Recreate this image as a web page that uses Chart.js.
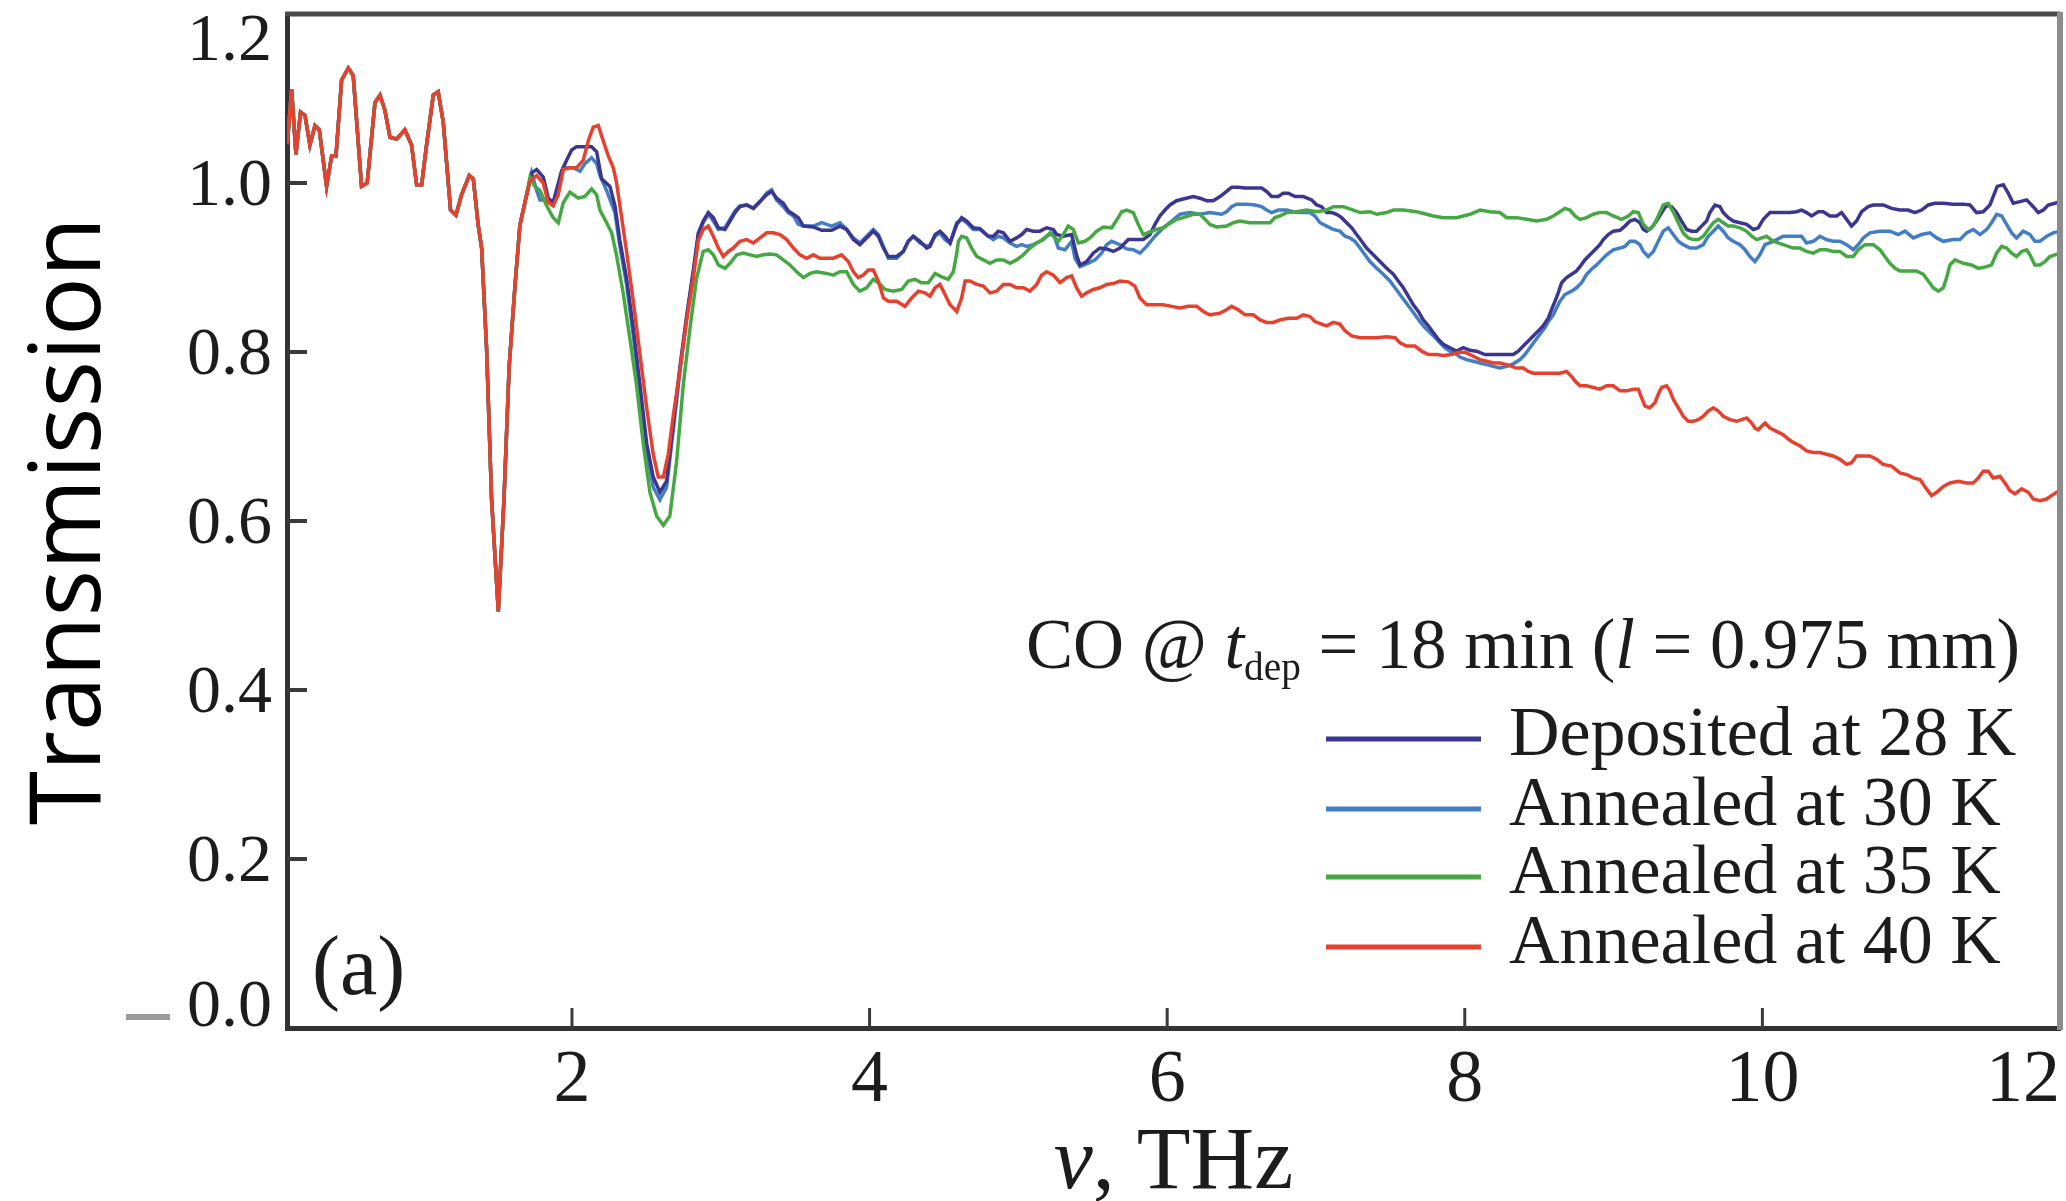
<!DOCTYPE html>
<html>
<head>
  <title>CO transmission spectra</title>
  <style>
    body { margin: 0; background: #ffffff; }
    canvas { display: block; }
  </style>
</head>
<body>
  <canvas id="chart" width="2066" height="1201"></canvas>

  <script src="https://cdn.jsdelivr.net/npm/chart.js"></script>
  <script>
    // axis ranges and ticks
    const xMin = 0.085, xMax = 12;
    const yMin = 0, yMax = 1.2;
    const xTicks = [2, 4, 6, 8, 10, 12];
    const yTicks = [0, 0.2, 0.4, 0.6, 0.8, 1.0, 1.2];

    const seriesLabels = ['Deposited at 28 K', 'Annealed at 30 K', 'Annealed at 35 K', 'Annealed at 40 K'];
    const seriesColors = ['#3b3690', '#437dc3', '#46a842', '#e6412f'];

    // below ~1.7 THz all four spectra lie on top of each other
    const shared = [[0.087,1.046],[0.116,1.111],[0.145,1.034],[0.176,1.084],[0.206,1.080],[0.239,1.045],[0.273,1.068],[0.302,1.063],[0.351,0.996],[0.385,1.032],[0.414,1.032],[0.452,1.122],[0.497,1.136],[0.530,1.127],[0.586,0.996],[0.624,1.000],[0.676,1.095],[0.710,1.104],[0.743,1.086],[0.777,1.054],[0.822,1.052],[0.877,1.063],[0.922,1.045],[0.956,0.998],[0.990,0.998],[1.023,1.045],[1.068,1.104],[1.101,1.108],[1.135,1.072],[1.184,0.968],[1.220,0.962],[1.258,0.986],[1.310,1.009],[1.337,1.005],[1.370,0.950],[1.393,0.923],[1.426,0.805],[1.460,0.625],[1.505,0.493],[1.543,0.625],[1.578,0.783],[1.617,0.878],[1.650,0.950],[1.684,0.977]];

    const deposited28 = [[1.729,1.012],[1.763,1.016],[1.807,1.007],[1.841,0.982],[1.874,0.977],[1.930,1.014],[1.964,1.027],[1.998,1.039],[2.031,1.043],[2.076,1.043],[2.132,1.043],[2.166,1.037],[2.199,1.005],[2.255,0.996],[2.289,0.973],[2.322,0.932],[2.367,0.887],[2.412,0.828],[2.457,0.761],[2.502,0.692],[2.546,0.652],[2.591,0.634],[2.636,0.647],[2.681,0.715],[2.726,0.783],[2.770,0.842],[2.815,0.896],[2.849,0.941],
      [2.882,0.955],[2.916,0.965],[2.950,0.959],[2.984,0.947],[3.028,0.945],[3.062,0.955],[3.096,0.965],[3.129,0.972],[3.174,0.974],[3.219,0.970],[3.264,0.978],[3.308,0.986],[3.342,0.990],[3.375,0.982],[3.420,0.976],[3.454,0.967],[3.488,0.963],[3.521,0.959],[3.555,0.949],[3.622,0.948],[3.678,0.944],[3.745,0.944],[3.801,0.949],[3.846,0.945],[3.891,0.933],[3.935,0.927],[3.980,0.935],[4.025,0.943],[4.059,0.937],[4.093,0.923],[4.126,0.913],[4.182,0.913],[4.227,0.919],[4.260,0.931],[4.294,0.937],[4.339,0.931],[4.384,0.923],[4.406,0.925],[4.440,0.939],[4.473,0.943],[4.507,0.937],[4.541,0.929],[4.586,0.951],[4.619,0.959],[4.653,0.955],[4.697,0.947],[4.742,0.946],[4.798,0.937],[4.832,0.937],[4.865,0.943],[4.899,0.941],[4.944,0.931],[4.988,0.935],[5.022,0.939],[5.056,0.945],[5.100,0.943],[5.145,0.943],[5.190,0.947],[5.235,0.945],
      [5.257,0.939],[5.302,0.937],[5.358,0.939],[5.391,0.915],[5.414,0.903],[5.459,0.907],[5.503,0.917],[5.548,0.923],[5.593,0.922],[5.638,0.919],[5.683,0.923],[5.739,0.933],[5.795,0.933],[5.839,0.933],[5.884,0.939],[5.918,0.951],[5.951,0.961],[5.985,0.968],[6.019,0.974],[6.063,0.979],[6.108,0.981],[6.175,0.984],[6.220,0.982],[6.265,0.979],[6.310,0.979],[6.355,0.984],[6.399,0.990],[6.433,0.995],[6.478,0.995],[6.523,0.994],[6.579,0.994],[6.635,0.994],[6.668,0.990],[6.702,0.984],[6.747,0.984],[6.780,0.988],[6.814,0.988],[6.859,0.984],[6.915,0.984],[6.971,0.980],[7.004,0.974],[7.038,0.972],[7.072,0.965],[7.105,0.965],[7.139,0.963],[7.172,0.959],[7.206,0.953],[7.240,0.947],[7.273,0.939],[7.307,0.931],[7.340,0.923],[7.385,0.915],[7.430,0.907],[7.475,0.899],[7.520,0.892],[7.553,0.884],[7.587,0.876],[7.620,0.866],[7.654,0.856],[7.688,0.848],[7.721,0.838],[7.755,0.831],[7.788,0.823],[7.822,0.815],[7.856,0.809],[7.900,0.805],[7.945,0.801],
      [7.990,0.805],[8.035,0.802],[8.079,0.801],[8.135,0.797],[8.191,0.797],[8.236,0.797],[8.281,0.797],[8.326,0.797],[8.359,0.801],[8.393,0.807],[8.427,0.813],[8.460,0.819],[8.494,0.825],[8.527,0.831],[8.561,0.840],[8.583,0.850],[8.606,0.860],[8.628,0.870],[8.651,0.882],[8.684,0.888],[8.718,0.892],[8.751,0.896],[8.774,0.901],[8.807,0.909],[8.841,0.915],[8.875,0.921],[8.908,0.927],[8.931,0.933],[8.964,0.939],[8.998,0.943],[9.043,0.944],[9.076,0.949],[9.110,0.955],[9.143,0.957],[9.177,0.953],[9.200,0.945],[9.222,0.943],[9.255,0.947],[9.289,0.955],[9.323,0.965],[9.356,0.974],[9.390,0.972],[9.423,0.965],[9.457,0.955],[9.491,0.945],[9.524,0.943],[9.558,0.943],[9.591,0.949],[9.625,0.955],[9.647,0.965],[9.681,0.974],[9.715,0.972],[9.737,0.965],[9.771,0.959],[9.804,0.955],[9.849,0.953],[9.894,0.951],[9.939,0.945],
      [9.972,0.947],[10.006,0.957],[10.051,0.965],[10.118,0.965],[10.185,0.965],[10.230,0.966],[10.263,0.968],[10.297,0.965],[10.331,0.961],[10.375,0.966],[10.409,0.966],[10.454,0.961],[10.499,0.961],[10.532,0.965],[10.566,0.957],[10.599,0.949],[10.633,0.955],[10.667,0.966],[10.711,0.972],[10.745,0.974],[10.812,0.974],[10.868,0.970],[10.924,0.968],[10.980,0.968],[11.025,0.965],[11.070,0.968],[11.115,0.974],[11.159,0.976],[11.216,0.976],[11.283,0.975],[11.350,0.975],[11.395,0.974],[11.439,0.965],[11.484,0.966],[11.529,0.974],[11.551,0.984],[11.578,0.996],[11.619,0.998],[11.652,0.988],[11.686,0.976],[11.731,0.978],[11.776,0.980],[11.820,0.972],[11.854,0.965],[11.888,0.968],[11.921,0.974],[11.966,0.976],[12.0,0.978]];

    const annealed30 = [[1.729,1.012],[1.763,0.991],[1.785,0.980],[1.830,0.980],[1.874,0.977],[1.942,1.018],[2.009,1.018],[2.054,1.014],[2.087,1.023],[2.132,1.030],[2.166,1.023],[2.188,1.009],[2.233,0.991],[2.289,0.965],[2.322,0.925],[2.367,0.880],[2.412,0.820],[2.457,0.752],[2.502,0.683],[2.546,0.640],[2.591,0.625],[2.636,0.640],[2.681,0.708],[2.726,0.778],[2.770,0.838],[2.815,0.893],[2.849,0.938],
      [2.882,0.953],[2.916,0.963],[2.950,0.955],[2.984,0.945],[3.028,0.947],[3.062,0.957],[3.096,0.967],[3.129,0.973],[3.174,0.974],[3.219,0.970],[3.264,0.978],[3.308,0.988],[3.342,0.992],[3.375,0.980],[3.420,0.972],[3.454,0.965],[3.488,0.961],[3.521,0.951],[3.555,0.949],[3.622,0.949],[3.678,0.953],[3.745,0.949],[3.801,0.953],[3.846,0.945],[3.891,0.935],[3.935,0.929],[3.980,0.937],[4.025,0.945],[4.059,0.939],[4.093,0.925],[4.126,0.911],[4.182,0.911],[4.227,0.919],[4.260,0.931],[4.294,0.937],[4.339,0.929],[4.384,0.925],[4.406,0.927],[4.440,0.937],[4.473,0.941],[4.507,0.933],[4.541,0.929],[4.586,0.953],[4.619,0.957],[4.653,0.953],[4.697,0.945],[4.742,0.945],[4.798,0.937],[4.832,0.933],[4.865,0.937],[4.899,0.935],[4.944,0.929],[4.988,0.925],[5.022,0.927],[5.056,0.925],[5.100,0.927],[5.145,0.931],[5.190,0.937],[5.235,0.941],
      [5.268,0.923],[5.313,0.921],[5.358,0.931],[5.380,0.911],[5.414,0.901],[5.470,0.905],[5.515,0.909],[5.559,0.917],[5.593,0.927],[5.627,0.931],[5.683,0.927],[5.727,0.922],[5.772,0.921],[5.817,0.917],[5.862,0.925],[5.918,0.937],[5.974,0.947],[6.030,0.955],[6.086,0.963],[6.153,0.965],[6.220,0.963],[6.287,0.965],[6.366,0.963],[6.399,0.966],[6.433,0.972],[6.467,0.975],[6.534,0.975],[6.590,0.974],[6.635,0.972],[6.668,0.968],[6.702,0.965],[6.747,0.968],[6.803,0.968],[6.847,0.966],[6.903,0.965],[6.960,0.965],[6.993,0.961],[7.027,0.953],[7.072,0.949],[7.116,0.945],[7.161,0.943],[7.195,0.937],[7.228,0.935],[7.262,0.931],[7.296,0.923],[7.329,0.915],[7.363,0.907],[7.408,0.899],[7.452,0.892],[7.497,0.884],[7.531,0.876],[7.564,0.868],[7.598,0.860],[7.632,0.852],[7.665,0.844],[7.699,0.836],[7.732,0.829],[7.766,0.823],[7.800,0.817],[7.833,0.811],[7.867,0.805],[7.900,0.801],[7.934,0.799],
      [7.967,0.794],[8.012,0.791],[8.057,0.789],[8.102,0.787],[8.147,0.785],[8.191,0.783],[8.236,0.781],[8.281,0.783],[8.326,0.786],[8.371,0.791],[8.404,0.797],[8.438,0.805],[8.471,0.813],[8.505,0.821],[8.539,0.829],[8.561,0.836],[8.595,0.844],[8.617,0.852],[8.639,0.860],[8.673,0.868],[8.718,0.872],[8.751,0.876],[8.785,0.882],[8.819,0.892],[8.852,0.898],[8.886,0.903],[8.919,0.909],[8.953,0.915],[8.998,0.921],[9.043,0.923],[9.076,0.925],[9.110,0.931],[9.143,0.931],[9.177,0.927],[9.200,0.919],[9.233,0.913],[9.267,0.919],[9.300,0.931],[9.334,0.943],[9.367,0.947],[9.401,0.939],[9.435,0.931],[9.468,0.927],[9.513,0.923],[9.558,0.923],[9.603,0.927],[9.636,0.937],[9.670,0.943],[9.704,0.949],[9.737,0.943],[9.771,0.935],[9.804,0.931],[9.849,0.927],[9.883,0.921],[9.916,0.913],[9.950,0.907],
      [9.983,0.915],[10.017,0.927],[10.073,0.931],[10.140,0.937],[10.207,0.937],[10.263,0.937],[10.297,0.929],[10.342,0.931],[10.387,0.937],[10.431,0.933],[10.476,0.931],[10.521,0.931],[10.566,0.927],[10.611,0.921],[10.644,0.927],[10.678,0.935],[10.723,0.941],[10.790,0.943],[10.857,0.943],[10.913,0.939],[10.958,0.943],[11.014,0.935],[11.070,0.939],[11.126,0.941],[11.171,0.935],[11.216,0.931],[11.283,0.933],[11.327,0.933],[11.372,0.941],[11.417,0.945],[11.462,0.939],[11.507,0.945],[11.540,0.953],[11.574,0.963],[11.608,0.961],[11.641,0.951],[11.675,0.941],[11.708,0.935],[11.753,0.943],[11.798,0.939],[11.831,0.931],[11.865,0.931],[11.910,0.937],[11.955,0.941],[12.0,0.943]];

    const annealed35 = [[1.718,1.007],[1.751,0.996],[1.785,0.991],[1.830,0.973],[1.874,0.959],[1.908,0.953],[1.942,0.977],[1.986,0.989],[2.043,0.982],[2.087,0.984],[2.132,0.993],[2.166,0.986],[2.188,0.968],[2.233,0.953],[2.267,0.941],[2.300,0.914],[2.345,0.869],[2.390,0.815],[2.434,0.761],[2.479,0.692],[2.524,0.634],[2.569,0.606],[2.614,0.595],[2.658,0.606],[2.703,0.670],[2.748,0.761],[2.793,0.828],[2.837,0.887],
      [2.882,0.919],[2.916,0.921],[2.950,0.915],[2.984,0.903],[3.028,0.899],[3.062,0.905],[3.107,0.915],[3.152,0.917],[3.197,0.915],[3.241,0.913],[3.286,0.915],[3.331,0.916],[3.375,0.915],[3.420,0.909],[3.465,0.903],[3.510,0.895],[3.555,0.888],[3.600,0.893],[3.644,0.895],[3.711,0.893],[3.756,0.891],[3.801,0.895],[3.846,0.895],[3.891,0.880],[3.935,0.872],[3.980,0.876],[4.025,0.886],[4.059,0.882],[4.104,0.874],[4.160,0.872],[4.216,0.874],[4.260,0.884],[4.305,0.886],[4.350,0.882],[4.395,0.882],[4.440,0.893],[4.485,0.889],[4.529,0.886],[4.563,0.895],[4.586,0.917],[4.597,0.931],[4.619,0.937],[4.653,0.935],[4.686,0.923],[4.720,0.913],[4.765,0.909],[4.809,0.905],[4.854,0.909],[4.899,0.909],[4.944,0.905],[4.988,0.909],[5.033,0.915],[5.078,0.923],[5.123,0.929],[5.168,0.933],[5.213,0.941],
      [5.268,0.931],[5.302,0.939],[5.335,0.949],[5.369,0.945],[5.403,0.929],[5.447,0.931],[5.481,0.935],[5.526,0.943],[5.571,0.948],[5.627,0.947],[5.671,0.959],[5.694,0.966],[5.727,0.968],[5.772,0.965],[5.806,0.951],[5.839,0.939],[5.884,0.942],[5.929,0.945],[5.974,0.947],[6.007,0.951],[6.063,0.957],[6.108,0.959],[6.175,0.963],[6.220,0.963],[6.254,0.957],[6.287,0.951],[6.332,0.948],[6.399,0.949],[6.444,0.953],[6.489,0.955],[6.556,0.953],[6.624,0.953],[6.691,0.953],[6.724,0.959],[6.758,0.961],[6.803,0.965],[6.870,0.966],[6.937,0.968],[7.004,0.966],[7.072,0.968],[7.116,0.972],[7.184,0.972],[7.251,0.968],[7.296,0.965],[7.363,0.966],[7.408,0.963],[7.475,0.965],[7.520,0.968],[7.587,0.968],[7.676,0.966],[7.744,0.963],[7.788,0.961],[7.856,0.959],[7.945,0.959],
      [8.035,0.963],[8.102,0.968],[8.169,0.966],[8.236,0.965],[8.281,0.959],[8.348,0.959],[8.415,0.957],[8.483,0.955],[8.550,0.957],[8.595,0.961],[8.639,0.966],[8.673,0.970],[8.707,0.968],[8.740,0.961],[8.774,0.957],[8.819,0.959],[8.863,0.963],[8.908,0.965],[8.953,0.965],[8.998,0.961],[9.054,0.957],[9.099,0.961],[9.132,0.966],[9.166,0.965],[9.200,0.951],[9.233,0.945],[9.267,0.949],[9.300,0.961],[9.334,0.974],[9.367,0.976],[9.401,0.966],[9.435,0.953],[9.468,0.941],[9.502,0.935],[9.536,0.933],[9.569,0.933],[9.603,0.937],[9.636,0.945],[9.670,0.953],[9.704,0.957],[9.737,0.953],[9.771,0.949],[9.804,0.949],[9.849,0.947],[9.894,0.943],[9.928,0.937],[9.961,0.933],
      [10.028,0.937],[10.073,0.931],[10.140,0.927],[10.207,0.923],[10.252,0.923],[10.297,0.919],[10.342,0.917],[10.387,0.921],[10.431,0.921],[10.476,0.919],[10.521,0.919],[10.566,0.913],[10.611,0.913],[10.644,0.921],[10.689,0.927],[10.745,0.927],[10.790,0.921],[10.823,0.913],[10.857,0.905],[10.891,0.899],[10.924,0.896],[10.980,0.896],[11.036,0.896],[11.081,0.892],[11.115,0.884],[11.148,0.876],[11.182,0.872],[11.216,0.876],[11.238,0.888],[11.260,0.903],[11.294,0.909],[11.350,0.905],[11.406,0.903],[11.451,0.899],[11.507,0.901],[11.540,0.903],[11.574,0.917],[11.608,0.925],[11.641,0.923],[11.675,0.917],[11.708,0.913],[11.742,0.919],[11.776,0.921],[11.798,0.915],[11.831,0.903],[11.865,0.903],[11.899,0.907],[11.932,0.913],[11.966,0.915],[12.0,0.917]];

    const annealed40 = [[1.718,1.002],[1.763,1.009],[1.807,1.000],[1.841,0.977],[1.874,0.973],[1.908,0.986],[1.942,1.016],[1.986,1.018],[2.031,1.018],[2.076,1.027],[2.110,1.050],[2.143,1.066],[2.177,1.068],[2.210,1.050],[2.244,1.032],[2.278,1.018],[2.300,1.000],[2.334,0.959],[2.367,0.919],[2.412,0.860],[2.457,0.797],[2.502,0.734],[2.546,0.679],[2.580,0.652],[2.614,0.652],[2.647,0.679],[2.681,0.725],[2.726,0.779],[2.770,0.837],[2.815,0.887],[2.849,0.932],
      [2.882,0.945],[2.916,0.949],[2.950,0.937],[2.984,0.923],[3.017,0.913],[3.051,0.919],[3.084,0.923],[3.129,0.931],[3.174,0.933],[3.219,0.929],[3.264,0.935],[3.308,0.941],[3.353,0.941],[3.398,0.939],[3.443,0.933],[3.488,0.923],[3.532,0.915],[3.577,0.911],[3.622,0.915],[3.667,0.911],[3.711,0.911],[3.756,0.911],[3.812,0.915],[3.857,0.907],[3.891,0.895],[3.924,0.888],[3.958,0.891],[3.992,0.897],[4.025,0.897],[4.059,0.884],[4.093,0.864],[4.126,0.860],[4.182,0.860],[4.238,0.854],[4.283,0.864],[4.328,0.872],[4.373,0.870],[4.406,0.866],[4.440,0.876],[4.473,0.880],[4.507,0.868],[4.541,0.856],[4.586,0.848],[4.619,0.864],[4.642,0.884],[4.675,0.884],[4.720,0.880],[4.765,0.878],[4.809,0.870],[4.854,0.872],[4.899,0.880],[4.944,0.880],[4.988,0.876],[5.033,0.876],[5.078,0.872],[5.123,0.880],[5.156,0.891],[5.190,0.895],[5.235,0.891],[5.280,0.882],
      [5.324,0.888],[5.358,0.890],[5.391,0.876],[5.425,0.866],[5.459,0.870],[5.503,0.874],[5.548,0.876],[5.593,0.880],[5.638,0.881],[5.683,0.884],[5.739,0.883],[5.783,0.878],[5.817,0.864],[5.862,0.856],[5.918,0.856],[5.974,0.856],[6.030,0.854],[6.086,0.852],[6.142,0.854],[6.198,0.854],[6.243,0.848],[6.287,0.844],[6.355,0.846],[6.399,0.850],[6.433,0.854],[6.478,0.850],[6.523,0.844],[6.579,0.844],[6.624,0.838],[6.668,0.835],[6.713,0.835],[6.758,0.838],[6.814,0.840],[6.870,0.840],[6.915,0.844],[6.960,0.842],[6.993,0.836],[7.038,0.833],[7.072,0.831],[7.116,0.835],[7.161,0.833],[7.195,0.825],[7.240,0.819],[7.296,0.817],[7.352,0.817],[7.408,0.817],[7.475,0.818],[7.531,0.817],[7.564,0.811],[7.609,0.807],[7.665,0.807],[7.710,0.801],[7.755,0.797],[7.811,0.797],[7.856,0.796],[7.912,0.797],[7.968,0.800],
      [8.012,0.799],[8.057,0.795],[8.102,0.791],[8.147,0.789],[8.191,0.787],[8.236,0.787],[8.281,0.785],[8.315,0.783],[8.348,0.781],[8.393,0.781],[8.427,0.777],[8.460,0.775],[8.505,0.775],[8.550,0.775],[8.595,0.775],[8.639,0.775],[8.684,0.777],[8.718,0.771],[8.740,0.766],[8.774,0.760],[8.819,0.760],[8.863,0.758],[8.908,0.756],[8.953,0.760],[8.998,0.760],[9.043,0.754],[9.087,0.754],[9.132,0.756],[9.166,0.756],[9.188,0.746],[9.211,0.736],[9.244,0.734],[9.278,0.740],[9.300,0.750],[9.323,0.758],[9.356,0.760],[9.379,0.754],[9.401,0.744],[9.435,0.734],[9.468,0.724],[9.502,0.718],[9.536,0.718],[9.569,0.720],[9.603,0.724],[9.636,0.730],[9.670,0.734],[9.704,0.730],[9.737,0.724],[9.782,0.720],[9.827,0.718],[9.860,0.720],[9.894,0.722],[9.928,0.716],[9.950,0.710],[9.972,0.708],
      [10.017,0.716],[10.051,0.710],[10.095,0.706],[10.140,0.702],[10.174,0.697],[10.207,0.693],[10.252,0.689],[10.297,0.683],[10.342,0.681],[10.387,0.681],[10.431,0.679],[10.476,0.677],[10.521,0.673],[10.566,0.667],[10.599,0.669],[10.633,0.677],[10.678,0.677],[10.723,0.677],[10.767,0.673],[10.812,0.667],[10.868,0.665],[10.924,0.657],[10.969,0.655],[11.014,0.651],[11.059,0.649],[11.103,0.638],[11.137,0.630],[11.171,0.634],[11.216,0.641],[11.260,0.645],[11.316,0.647],[11.372,0.645],[11.417,0.645],[11.451,0.651],[11.484,0.659],[11.518,0.659],[11.551,0.651],[11.596,0.653],[11.630,0.645],[11.663,0.636],[11.697,0.632],[11.742,0.638],[11.787,0.634],[11.820,0.626],[11.865,0.624],[11.910,0.626],[11.943,0.630],[11.977,0.634],[12.0,0.636]];

    const tails = [deposited28, annealed30, annealed35, annealed40];
    const drawOrder = [2, 3, 1, 0]; // red on top, as in the figure

    const serif = "'Liberation Serif', 'Times New Roman', serif";
    const ink = '#1c1c1c';

    // frame, inward ticks, legend block and axis label drawn on top
    const decor = {
      id: 'decor',
      afterDraw(chart) {
        const { ctx, chartArea: a, scales: { x, y } } = chart;
        ctx.save();

        ctx.strokeStyle = '#4a4a4a';
        ctx.lineWidth = 5;
        ctx.beginPath(); ctx.moveTo(a.left - 2, a.top); ctx.lineTo(a.right, a.top); ctx.stroke();
        ctx.strokeStyle = '#8c8c8c';
        ctx.lineWidth = 6;
        ctx.beginPath(); ctx.moveTo(a.right, a.top - 2); ctx.lineTo(a.right, a.bottom + 2); ctx.stroke();

        ctx.strokeStyle = '#3a3a3a';
        ctx.lineWidth = 4;
        yTicks.filter(v => v > yMin && v < yMax).forEach(v => {
          const py = y.getPixelForValue(v);
          ctx.beginPath(); ctx.moveTo(a.left, py); ctx.lineTo(a.left + 20, py); ctx.stroke();
        });
        ctx.lineWidth = 3;
        xTicks.filter(v => v < xMax).forEach(v => {
          const px = x.getPixelForValue(v);
          ctx.beginPath(); ctx.moveTo(px, a.bottom); ctx.lineTo(px, a.bottom - 20); ctx.stroke();
        });

        // faint dash left of the 0.0 label
        ctx.strokeStyle = '#9a9a9a';
        ctx.lineWidth = 6;
        ctx.beginPath(); ctx.moveTo(126, 1017); ctx.lineTo(170, 1017); ctx.stroke();

        ctx.fillStyle = ink;
        ctx.textBaseline = 'alphabetic';

        // panel letter
        ctx.textAlign = 'left';
        ctx.font = `84px ${serif}`;
        ctx.fillText('(a)', 312, 994);

        // x axis title: italic nu
        const xt = [
          { t: 'ν', f: `italic 88px ${serif}` },
          { t: ', THz', f: `88px ${serif}` }
        ];
        let w = 0;
        xt.forEach(p => { ctx.font = p.f; p.w = ctx.measureText(p.t).width; w += p.w; });
        let cx = (a.left + a.right) / 2 - w / 2;
        xt.forEach(p => { ctx.font = p.f; ctx.fillText(p.t, cx, 1188); cx += p.w; });

        // legend heading
        const head = [
          { t: 'CO @ ', f: `72px ${serif}`, dy: 0 },
          { t: 't', f: `italic 72px ${serif}`, dy: 0 },
          { t: 'dep', f: `40px ${serif}`, dy: 12 },
          { t: ' = 18 min (', f: `72px ${serif}`, dy: 0 },
          { t: 'l', f: `italic 72px ${serif}`, dy: 0 },
          { t: ' = 0.975 mm)', f: `72px ${serif}`, dy: 0 }
        ];
        w = 0;
        head.forEach(p => { ctx.font = p.f; p.w = ctx.measureText(p.t).width; w += p.w; });
        const s = Math.min(1, 994 / w);
        ctx.save();
        ctx.translate(2020 - w * s, 668);
        ctx.scale(s, 1);
        cx = 0;
        head.forEach(p => { ctx.font = p.f; ctx.fillText(p.t, cx, p.dy); cx += p.w; });
        ctx.restore();

        // legend entries
        const base = [755, 825, 893, 963];
        chart.data.datasets.forEach((ds, i) => {
          ctx.strokeStyle = ds.borderColor;
          ctx.lineWidth = 5;
          ctx.beginPath(); ctx.moveTo(1326, base[i] - 16); ctx.lineTo(1481, base[i] - 16); ctx.stroke();
          ctx.fillStyle = ink;
          ctx.font = `70px ${serif}`;
          ctx.fillText(ds.label, 1509, base[i], 512);
        });

        ctx.restore();
      }
    };

    const datasets = seriesLabels.map((label, i) => ({
      label: label,
      data: shared.concat(tails[i]).map(([vx, vy]) => ({ x: vx, y: vy })),
      borderColor: seriesColors[i],
      backgroundColor: seriesColors[i],
      borderWidth: 3.5,
      pointRadius: 0,
      tension: 0,
      order: drawOrder[i]
    }));

    new Chart(document.getElementById('chart').getContext('2d'), {
      type: 'line',
      data: { datasets: datasets },
      plugins: [decor],
      options: {
        responsive: false,
        animation: false,
        devicePixelRatio: 1,
        layout: { padding: { top: 14, right: 6, left: 0, bottom: 0 } },
        plugins: { legend: { display: false }, tooltip: { enabled: false } },
        scales: {
          x: {
            type: 'linear',
            min: xMin,
            max: xMax,
            grid: { display: false, drawTicks: false },
            border: { display: true, color: '#333333', width: 5 },
            ticks: {
              color: ink,
              font: { family: serif, size: 74 },
              padding: 9,
              maxRotation: 0,
              callback: v => (v === 12 ? '12\u2007\u2007' : String(v))
            },
            afterBuildTicks: sc => { sc.ticks = xTicks.map(v => ({ value: v })); },
            afterFit: sc => { sc.height = 173; sc.paddingLeft = 0; sc.paddingRight = 0; }
          },
          y: {
            min: yMin,
            max: yMax,
            grid: { display: false, drawTicks: false },
            border: { display: true, color: '#333333', width: 5 },
            title: {
              display: true,
              text: 'Transmission',
              color: '#000000',
              font: { family: "'Open Sans', 'Noto Sans', sans-serif", size: 98 },
              padding: { top: 13, bottom: 0 }
            },
            ticks: {
              color: ink,
              font: { family: serif, size: 68, lineHeight: 0.7 },
              padding: 15,
              labelOffset: 4,
              callback: v => {
                const t = v.toFixed(1);
                if (v > yMax - 1e-6) return ['', t];
                if (v < yMin + 1e-6) return [t, ''];
                return t;
              }
            },
            afterBuildTicks: sc => { sc.ticks = yTicks.map(v => ({ value: v })); },
            afterFit: sc => { sc.width = 287; sc.paddingTop = 0; sc.paddingBottom = 0; }
          }
        }
      }
    });
  </script>
</body>
</html>
